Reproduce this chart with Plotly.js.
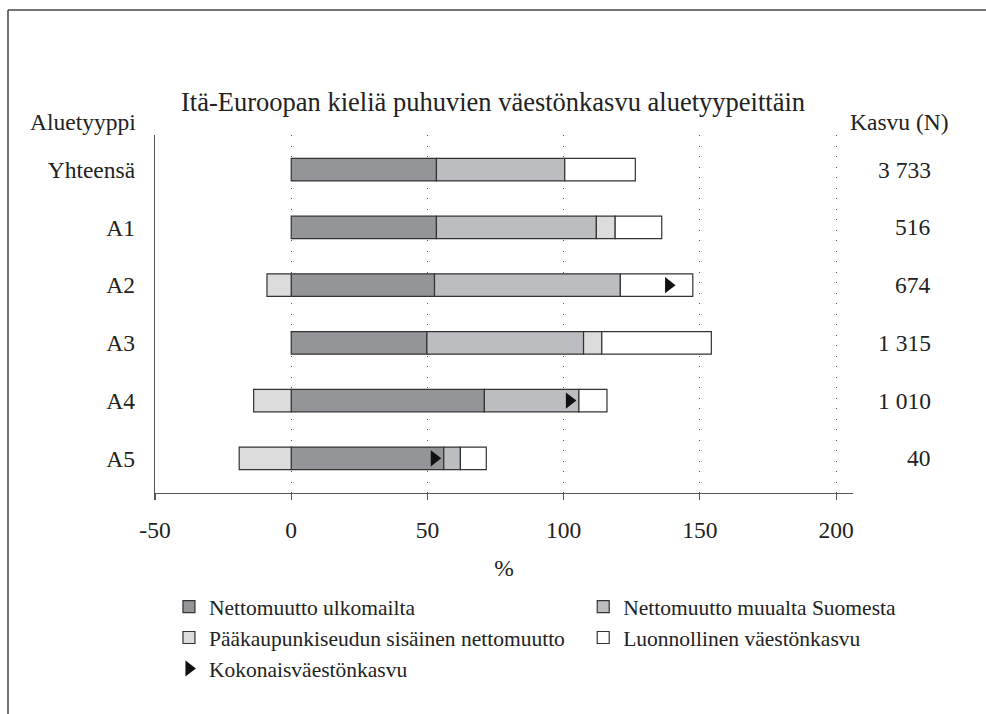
<!DOCTYPE html>
<html>
<head>
<meta charset="utf-8">
<script src="https://cdn.plot.ly/plotly-3.0.1.min.js"></script>
<style>
  html, body { margin: 0; padding: 0; background: #fff; }
  #chart { width: 986px; height: 714px; }
</style>
</head>
<body>
<div id="chart"></div>
<script>
// ---- Data ----
const categories = ["Yhteensä", "A1", "A2", "A3", "A4", "A5"];
const nettoUlkomailta = [53.3, 53.3, 52.6, 49.8, 70.9, 56.0];
const nettoMuualta = [47.1, 58.7, 68.2, 57.5, 34.7, 6.1];
const paakaupunkiseutu = [0, 6.9, -8.9, 6.7, -13.8, -19.1];
const luonnollinen = [25.9, 17.1, 26.6, 40.2, 10.3, 9.5];
const kokonais = [null, null, 138.5, null, 102.1, 52.5];
const kasvuN = ["3 733", "516", "674", "1 315", "1 010", "40"];
const xTicks = [-50, 0, 50, 100, 150, 200];

const seriesNames = [
  "Nettomuutto ulkomailta",
  "Nettomuutto muualta Suomesta",
  "Pääkaupunkiseudun sisäinen nettomuutto",
  "Luonnollinen väestönkasvu",
  "Kokonaisväestönkasvu"
];

// ---- Style ----
const FONT = "'Liberation Serif', serif";
const TXT = "#222";
const EDGE = "#333";
const barW = 0.39;

function bar(name, vals, color, legend, group) {
  return {
    type: "bar", orientation: "h", name: name,
    y: categories, x: vals,
    width: barW,
    marker: { color: color, line: { color: EDGE, width: 1.2 } },
    legend: legend, legendgroup: group,
    hoverinfo: "x+name"
  };
}

const traces = [
  bar(seriesNames[0], nettoUlkomailta, "#949599", "legend", "g1"),
  bar(seriesNames[1], nettoMuualta, "#bcbdc0", "legend2", "g2"),
  bar(seriesNames[2], paakaupunkiseutu, "#dcdcdc", "legend", "g3"),
  bar(seriesNames[3], luonnollinen, "#ffffff", "legend2", "g4"),
  {
    type: "scatter", mode: "markers", name: seriesNames[4],
    y: categories, x: kokonais,
    marker: { symbol: "triangle-right", size: 14, color: "#111" },
    legend: "legend", legendgroup: "g5", cliponaxis: false
  }
];

const LBL = 23.5;
const annotations = [
  { text: "Aluetyyppi", xref: "paper", yref: "paper", x: (138 - 155) / 698, y: (493 - 122) / 358,
    xanchor: "right", yanchor: "middle", showarrow: false, font: { family: FONT, size: LBL, color: TXT } },
  { text: "Kasvu (N)", xref: "paper", yref: "paper", x: (951 - 155) / 698, y: (493 - 122) / 358,
    xanchor: "right", yanchor: "middle", showarrow: false, font: { family: FONT, size: LBL, color: TXT } }
];
categories.forEach((c, i) => {
  annotations.push({
    text: kasvuN[i], xref: "paper", yref: "y", x: (933 - 155) / 698, y: c,
    xanchor: "right", yanchor: "middle", showarrow: false,
    font: { family: FONT, size: LBL, color: TXT }
  });
});

const layout = {
  width: 986, height: 714,
  paper_bgcolor: "#fff", plot_bgcolor: "#fff",
  margin: { l: 155, r: 133, t: 135, b: 221 },
  font: { family: FONT, color: TXT },
  barmode: "relative",
  title: {
    text: "Itä-Euroopan kieliä puhuvien väestönkasvu aluetyypeittäin",
    font: { family: FONT, size: 26.5, color: TXT },
    xref: "container", x: 0.5, xanchor: "center",
    yref: "container", y: 1 - 102 / 714, yanchor: "middle"
  },
  xaxis: {
    range: [-50, 206.2], tickvals: xTicks, ticktext: xTicks.map(String),
    showgrid: true, gridcolor: "#555", griddash: "1px,9.5px", gridwidth: 1.2,
    zeroline: false,
    showline: true, linecolor: "#555", linewidth: 1.2,
    ticks: "outside", ticklen: 6, tickcolor: "#555", tickwidth: 1.2,
    ticklabelstandoff: 10,
    tickfont: { family: FONT, size: LBL, color: TXT },
    title: { text: "%", font: { family: FONT, size: LBL, color: TXT }, standoff: 17 },
    fixedrange: true
  },
  yaxis: {
    type: "category", categoryorder: "array", categoryarray: categories,
    range: [5.6, -0.6],
    showgrid: false, zeroline: false,
    showline: true, linecolor: "#555", linewidth: 1.2,
    ticks: "", ticklabelstandoff: 14,
    tickfont: { family: FONT, size: LBL, color: TXT },
    fixedrange: true
  },
  showlegend: true,
  legend: {
    orientation: "v", x: 0.02, xanchor: "left", y: -0.26, yanchor: "top",
    font: { family: FONT, size: 21.5, color: TXT },
    traceorder: "normal", bgcolor: "rgba(0,0,0,0)"
  },
  legend2: {
    orientation: "v", x: 0.6135, xanchor: "left", y: -0.26, yanchor: "top",
    font: { family: FONT, size: 21.5, color: TXT },
    traceorder: "normal", bgcolor: "rgba(0,0,0,0)"
  },
  annotations: annotations,
  shapes: [
    { type: "line", xref: "paper", yref: "paper", x0: -0.2106, x1: 1.2, y0: 1.3492, y1: 1.3492,
      line: { color: "#444", width: 1.5 } },
    { type: "line", xref: "paper", yref: "paper", x0: -0.2106, x1: -0.2106, y0: 1.3492, y1: -0.62,
      line: { color: "#444", width: 1.5 } }
  ]
};

Plotly.newPlot("chart", traces, layout, { displayModeBar: false, staticPlot: true });
</script>
</body>
</html>
